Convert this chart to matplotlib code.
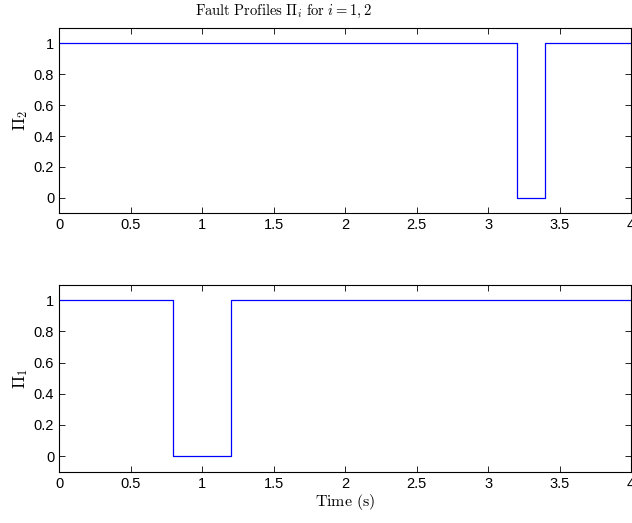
import matplotlib
matplotlib.use('Agg')
import matplotlib.pyplot as plt

plt.rcParams['mathtext.fontset'] = 'cm'
plt.rcParams['font.family'] = 'Liberation Sans'

# fault profiles: switch times and levels
t_pi2 = [0, 3.2, 3.2, 3.4, 3.4, 4]
v_pi2 = [1, 1, 0, 0, 1, 1]
t_pi1 = [0, 0.8, 0.8, 1.2, 1.2, 4]
v_pi1 = [1, 1, 0, 0, 1, 1]

xticks = [0, 0.5, 1, 1.5, 2, 2.5, 3, 3.5, 4]
yticks = [0, 0.2, 0.4, 0.6, 0.8, 1]

fig = plt.figure(figsize=(6.32, 5.23), dpi=100)
ax1 = fig.add_axes([0.0934, 0.592, 0.9051, 0.355])
ax2 = fig.add_axes([0.0934, 0.098, 0.9051, 0.358])

for ax, t, v, lab in [(ax1, t_pi2, v_pi2, r'$\Pi_2$'), (ax2, t_pi1, v_pi1, r'$\Pi_1$')]:
    ax.plot(t, v, color=(0, 0, 1), linewidth=0.9)
    ax.set_xlim(0, 4)
    ax.set_ylim(-0.1, 1.1)
    ax.set_xticks(xticks)
    ax.set_xticklabels(['0', '0.5', '1', '1.5', '2', '2.5', '3', '3.5', '4'])
    ax.set_yticks(yticks)
    ax.set_yticklabels(['0', '0.2', '0.4', '0.6', '0.8', '1'])
    ax.tick_params(direction='in', top=True, right=True, labelsize=10.5, length=4.5, width=0.6)
    for s in ax.spines.values():
        s.set_linewidth(0.8)
    ax.set_ylabel(lab, fontsize=12.5, labelpad=3)

ax1.set_title(r'$\mathrm{Fault\ Profiles\ }\Pi_i\mathrm{\ for\ }i=1,2$', fontsize=10.5, pad=9, x=0.393)
ax2.set_xlabel(r'$\mathrm{Time\ (s)}$', fontsize=11.5, labelpad=1)

fig.savefig('out.png', dpi=100)
